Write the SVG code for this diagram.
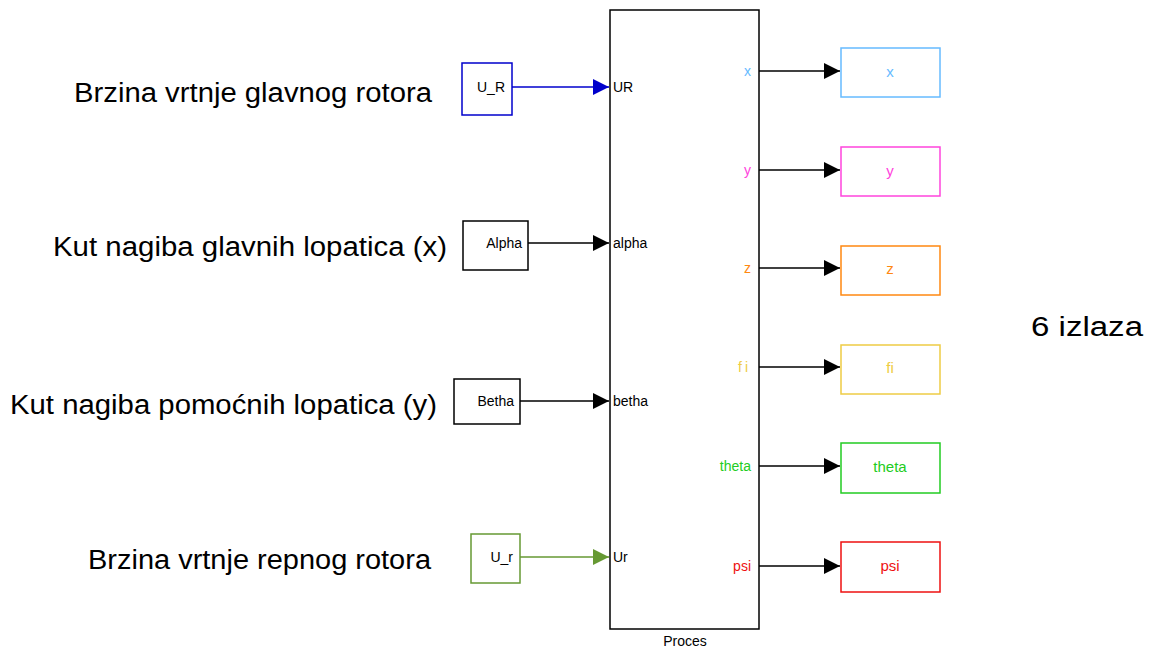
<svg xmlns="http://www.w3.org/2000/svg" width="1149" height="650" viewBox="0 0 1149 650">
<defs>
<style>
text{font-family:"Liberation Sans",Arial,sans-serif}
.big{font-size:27px;fill:#000}
.sm{font-size:14px}
.bl{font-size:15px}
.blk{fill:#fff;stroke-width:1.5}
.ln{fill:none;stroke-width:1.5}
</style>
<marker id="ak" markerWidth="16" markerHeight="16" refX="16" refY="8" orient="auto" markerUnits="userSpaceOnUse"><path d="M0,0L16,8L0,16z" fill="#000"/></marker>
<marker id="ab" markerWidth="16" markerHeight="16" refX="16" refY="8" orient="auto" markerUnits="userSpaceOnUse"><path d="M0,0L16,8L0,16z" fill="#0000CC"/></marker>
<marker id="ag" markerWidth="16" markerHeight="16" refX="16" refY="8" orient="auto" markerUnits="userSpaceOnUse"><path d="M0,0L16,8L0,16z" fill="#669933"/></marker>
</defs>
<rect width="1149" height="650" fill="#fff"/>
<text class="big" x="74" y="102" textLength="358" lengthAdjust="spacingAndGlyphs">Brzina vrtnje glavnog rotora</text>
<text class="big" x="53" y="256" textLength="394" lengthAdjust="spacingAndGlyphs">Kut nagiba glavnih lopatica (x)</text>
<text class="big" x="10" y="414" textLength="427" lengthAdjust="spacingAndGlyphs">Kut nagiba pomoćnih lopatica (y)</text>
<text class="big" x="88" y="569" textLength="343" lengthAdjust="spacingAndGlyphs">Brzina vrtnje repnog rotora</text>
<text class="big" x="1031" y="336" textLength="112" lengthAdjust="spacingAndGlyphs">6 izlaza</text>

<g id="proces">
<rect class="blk" x="610" y="10" width="149" height="619" stroke="#000"/>
<text class="sm" x="685" y="646" text-anchor="middle" font-size="15">Proces</text>
<text class="sm" x="613" y="92">UR</text>
<text class="sm" x="613" y="248">alpha</text>
<text class="sm" x="613" y="406">betha</text>
<text class="sm" x="613" y="562">Ur</text>
<text class="sm" x="751" y="76" text-anchor="end" fill="#66BBFF">x</text>
<text class="sm" x="751" y="175" text-anchor="end" fill="#FF44DD">y</text>
<text class="sm" x="751" y="273" text-anchor="end" fill="#FF8811">z</text>
<text class="sm" x="751" y="372" text-anchor="end" fill="#EECC44" letter-spacing="3">fi</text>
<text class="sm" x="751" y="471" text-anchor="end" fill="#22CC22">theta</text>
<text class="sm" x="751" y="571" text-anchor="end" fill="#EE1111">psi</text>
</g>

<g id="in_UR">
<rect class="blk" x="462" y="63" width="50" height="52" stroke="#0000CC"/>
<text class="sm" x="505" y="92" text-anchor="end">U_R</text>
</g>
<g id="in_alpha">
<rect class="blk" x="463" y="221" width="65" height="49" stroke="#000"/>
<text class="sm" x="522" y="248" text-anchor="end">Alpha</text>
</g>
<g id="in_betha">
<rect class="blk" x="454" y="379" width="66" height="45" stroke="#000"/>
<text class="sm" x="514" y="406" text-anchor="end">Betha</text>
</g>
<g id="in_Ur">
<rect class="blk" x="471" y="534" width="49" height="49" stroke="#669933"/>
<text class="sm" x="513" y="562" text-anchor="end">U_r</text>
</g>

<g id="out_x"><rect class="blk" x="841" y="48" width="99" height="49" stroke="#66BBFF"/><text class="bl" x="890" y="77" text-anchor="middle" fill="#66BBFF">x</text></g>
<g id="out_y"><rect class="blk" x="841" y="147" width="99" height="49" stroke="#FF44DD"/><text class="bl" x="890" y="176" text-anchor="middle" fill="#FF44DD">y</text></g>
<g id="out_z"><rect class="blk" x="841" y="246" width="99" height="49" stroke="#FF8811"/><text class="bl" x="890" y="274" text-anchor="middle" fill="#FF8811">z</text></g>
<g id="out_fi"><rect class="blk" x="841" y="345" width="99" height="49" stroke="#EECC44"/><text class="bl" x="890" y="373" text-anchor="middle" fill="#EECC44">fi</text></g>
<g id="out_theta"><rect class="blk" x="841" y="443" width="99" height="50" stroke="#22CC22"/><text class="bl" x="890" y="472" text-anchor="middle" fill="#22CC22">theta</text></g>
<g id="out_psi"><rect class="blk" x="841" y="542" width="99" height="50" stroke="#EE1111"/><text class="bl" x="890" y="571" text-anchor="middle" fill="#EE1111">psi</text></g>

<g id="connectors">
<path class="ln" d="M512,87H609" stroke="#0000CC" marker-end="url(#ab)"/>
<path class="ln" d="M528,243H609" stroke="#000" marker-end="url(#ak)"/>
<path class="ln" d="M520,401H609" stroke="#000" marker-end="url(#ak)"/>
<path class="ln" d="M520,557H609" stroke="#669933" marker-end="url(#ag)"/>
<path class="ln" d="M759,71H840" stroke="#000" marker-end="url(#ak)"/>
<path class="ln" d="M759,170H840" stroke="#000" marker-end="url(#ak)"/>
<path class="ln" d="M759,268H840" stroke="#000" marker-end="url(#ak)"/>
<path class="ln" d="M759,367H840" stroke="#000" marker-end="url(#ak)"/>
<path class="ln" d="M759,466H840" stroke="#000" marker-end="url(#ak)"/>
<path class="ln" d="M759,566H840" stroke="#000" marker-end="url(#ak)"/>
</g>
</svg>
